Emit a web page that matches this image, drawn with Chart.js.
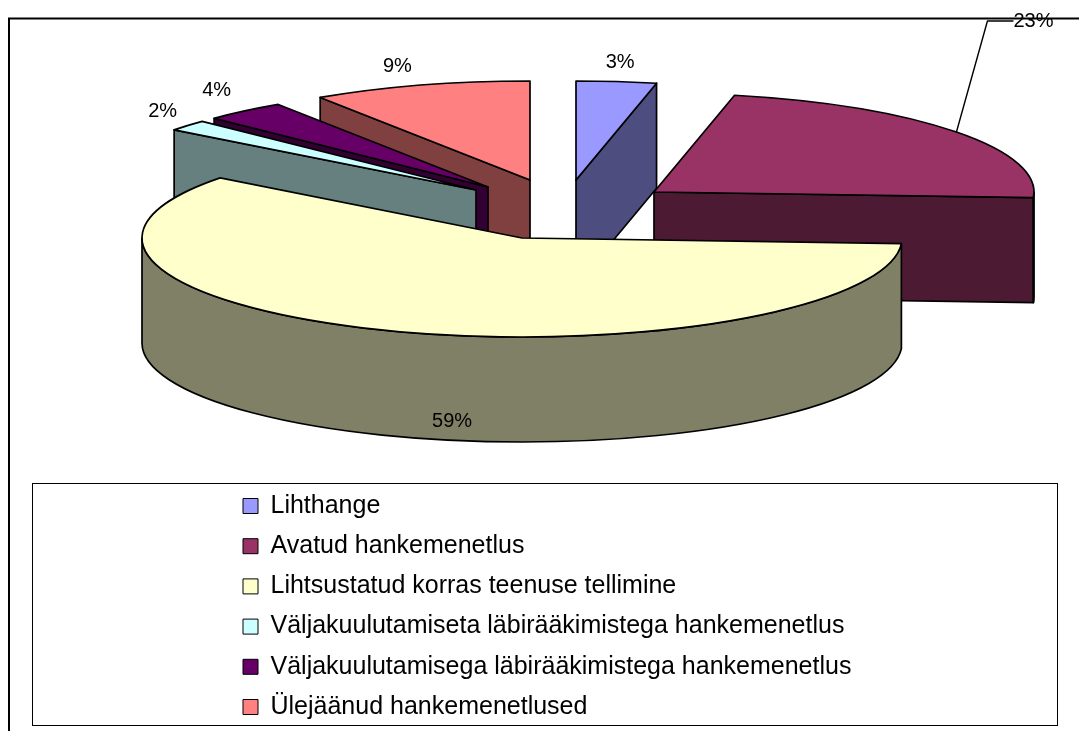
<!DOCTYPE html>
<html>
<head>
<meta charset="utf-8">
<style>html,body{margin:0;padding:0;background:#fff}canvas{display:block}</style>
<script src="https://cdn.jsdelivr.net/npm/chart.js@4/dist/chart.umd.min.js"></script>
</head>
<body>
<canvas id="c" width="1079" height="731"></canvas>
<script>
const categories = ["Lihthange","Avatud hankemenetlus","Lihtsustatud korras teenuse tellimine","Väljakuulutamiseta läbirääkimistega hankemenetlus","Väljakuulutamisega läbirääkimistega hankemenetlus","Ülejäänud hankemenetlused"];
const values = [3.4, 22.5, 59.49, 1.8, 3.5, 9.31];
const percentLabels = ["3%","23%","59%","2%","4%","9%"];
const topColors = ["#9999FF","#993366","#FFFFCC","#CCFFFF","#660066","#FF8080"];
const wallColors = ["#4D4D80","#4D1A33","#808066","#668080","#330033","#804040"];

// Look of the tilted, exploded pie
const RX = 380, RY = 99, DEPTH = 105;
const sliceCentres = [[576,180],[654,192],[522,238],[476,190],[488,187],[530,180]];
const labelNudges = [[3.6,-18.6],[77,-111],[62,91],[-25,-14.5],[-28,-20],[-23,-19]];
const drawOrder = [0,5,4,3,1,2];

const pie3d = {
  id: 'pie3d',
  beforeDraw(chart) {
    const c = chart.ctx;
    c.save();
    c.fillStyle = '#fff';
    c.fillRect(0,0,chart.width,chart.height);
    c.strokeStyle = '#000';
    c.lineWidth = 2;
    c.beginPath();
    c.moveTo(9, chart.height + 2);
    c.lineTo(9, 18.5);
    c.lineTo(chart.width + 2, 18.5);
    c.stroke();
    c.lineWidth = 1;
    c.strokeRect(32.5, 483.5, 1025, 242);
    c.restore();
  },
  afterLayout(chart) {
    const l = chart.legend;
    l.left = 243 - l.options.labels.padding;
    l.top = 493.5 - l.options.labels.padding;
    l.right = 1055;
    l.bottom = l.top + l.height;
    l.adjustHitBoxes();
  },
  beforeDatasetDraw() { return false; },
  afterDatasetsDraw(chart) {
    const c = chart.ctx;
    const arcs = chart.getDatasetMeta(0).data;
    c.save();
    c.lineJoin = 'round';
    c.strokeStyle = '#000';
    c.lineWidth = 1.7;
    const paint = (fill) => { c.fillStyle = fill; c.fill(); c.stroke(); };
    for (const i of drawOrder) {
      const [x,y] = sliceCentres[i];
      const p1 = arcs[i].startAngle, p2 = arcs[i].endAngle;
      const face = (p) => {
        c.beginPath();
        c.moveTo(x,y);
        c.lineTo(x+RX*Math.cos(p), y+RY*Math.sin(p));
        c.lineTo(x+RX*Math.cos(p), y+RY*Math.sin(p)+DEPTH);
        c.lineTo(x, y+DEPTH);
        c.closePath();
        paint(wallColors[i]);
      };
      if (-Math.cos(p1) > 0) face(p1);
      if (Math.cos(p2) > 0) face(p2);
      const w1 = Math.max(p1, 0), w2 = Math.min(p2, Math.PI);
      if (w2 > w1) {
        c.beginPath();
        c.ellipse(x,y,RX,RY,0,w1,w2);
        c.ellipse(x,y+DEPTH,RX,RY,0,w2,w1,true);
        c.closePath();
        paint(wallColors[i]);
      }
      c.beginPath();
      c.moveTo(x,y);
      c.ellipse(x,y,RX,RY,0,p1,p2);
      c.closePath();
      paint(topColors[i]);
    }
    // leader + percentage labels
    c.font = '20px "Liberation Sans", Arial, sans-serif';
    c.textAlign = 'center';
    c.textBaseline = 'middle';
    c.fillStyle = '#000';
    arcs.forEach((a,i) => {
      const mid = (a.startAngle + a.endAngle) / 2;
      const ax = sliceCentres[i][0] + RX*Math.cos(mid);
      const ay = sliceCentres[i][1] + RY*Math.sin(mid);
      const lx = ax + labelNudges[i][0], ly = ay + labelNudges[i][1];
      if (i === 1) {
        c.lineWidth = 1.4;
        c.beginPath();
        c.moveTo(ax, ay);
        c.lineTo(lx - 46, ly);
        c.lineTo(lx - 20, ly);
        c.stroke();
      }
      c.fillText(percentLabels[i], lx, ly);
    });
    c.restore();
  }
};

new Chart(document.getElementById('c'), {
  type: 'pie',
  data: {
    labels: categories,
    datasets: [{
      data: values,
      backgroundColor: topColors,
      borderColor: '#000',
      borderWidth: 1
    }]
  },
  options: {
    responsive: false,
    animation: false,
    plugins: {
      tooltip: { enabled: false },
      legend: {
        position: 'left',
        align: 'start',
        labels: {
          boxWidth: 15,
          boxHeight: 15,
          padding: 15.2,
          color: '#000',
          font: { family: '"Liberation Sans", Arial, sans-serif', size: 25 }
        }
      }
    }
  },
  plugins: [pie3d]
});
</script>
</body>
</html>
